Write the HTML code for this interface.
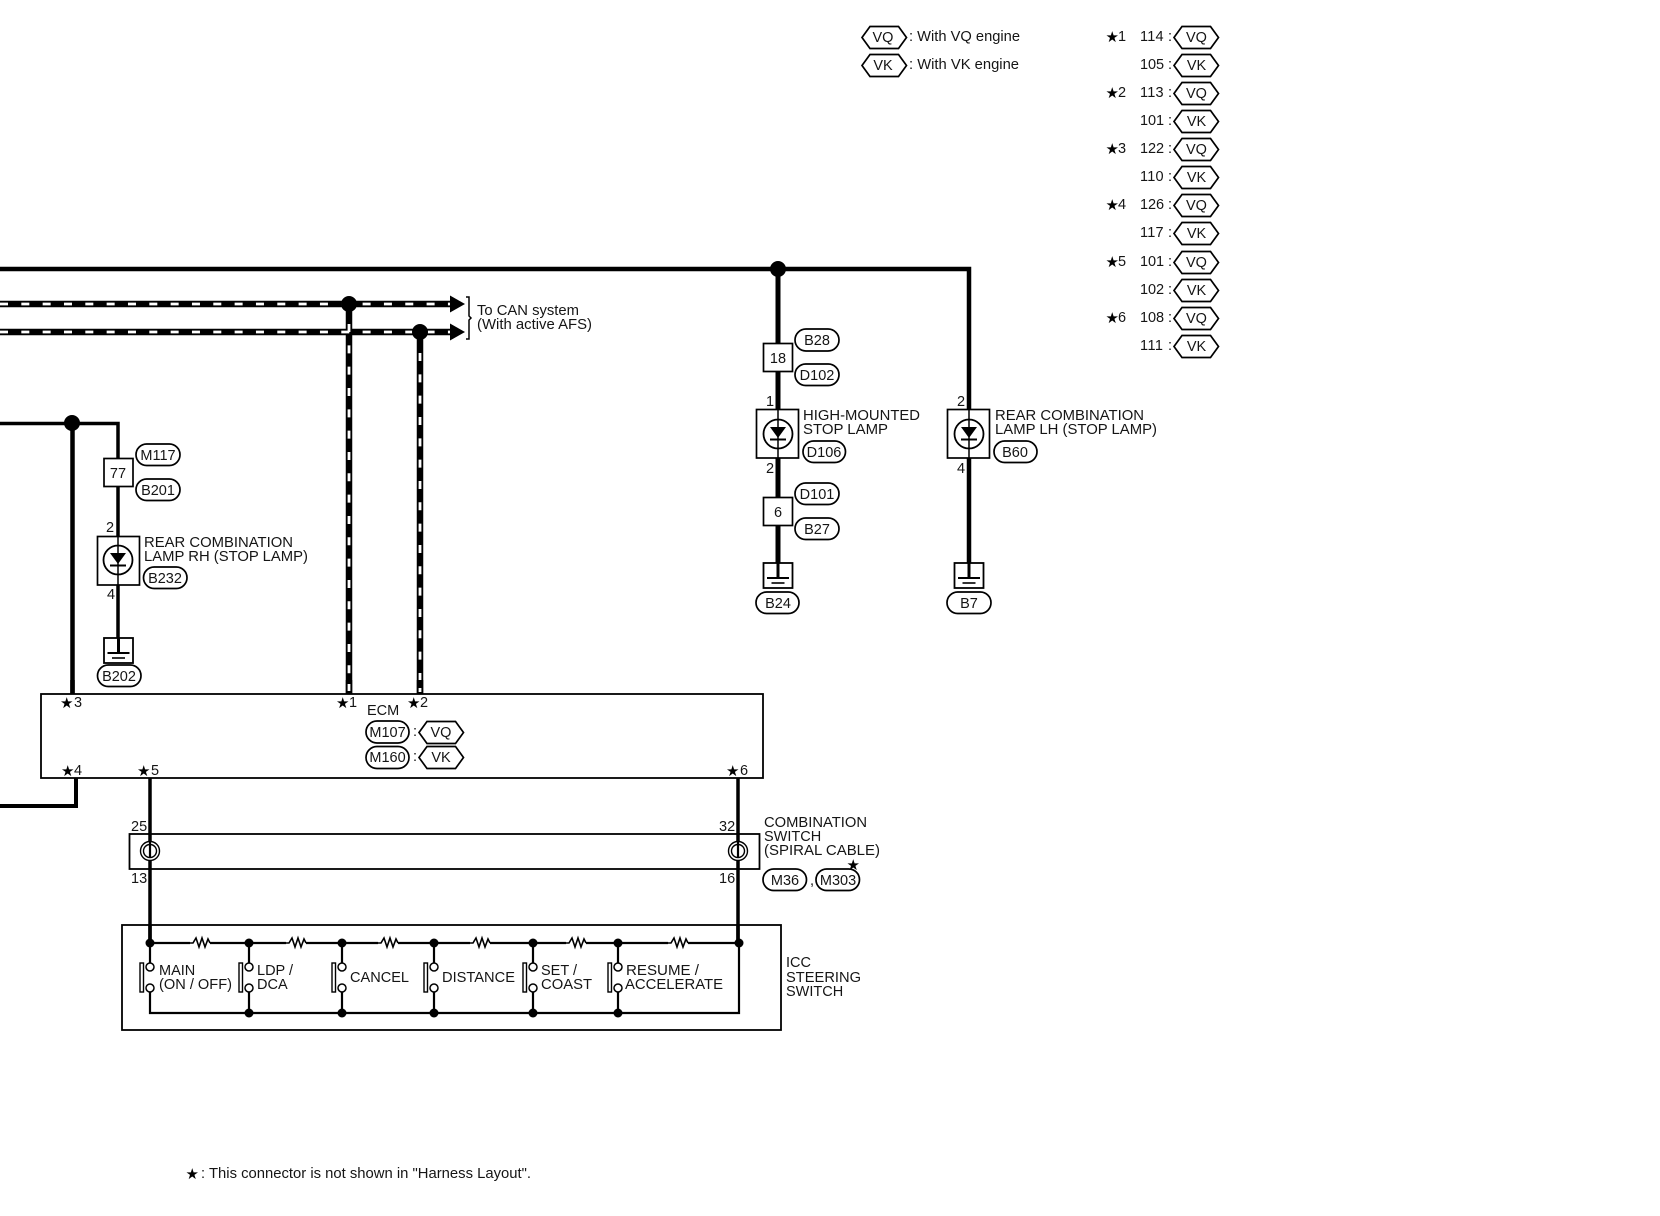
<!DOCTYPE html>
<html><head><meta charset="utf-8"><style>
html,body{margin:0;padding:0;background:#fff}
svg{display:block}
text{font-family:"Liberation Sans",sans-serif;font-size:14.5px;fill:#151515}
.s{font-family:"DejaVu Sans",sans-serif;font-size:15px;fill:#000}
.m{text-anchor:middle}
.c{fill:#fff;stroke:#000;stroke-width:1.7}
.b{fill:#fff;stroke:#000;stroke-width:1.7}
.w{fill:none;stroke:#000}
</style></head><body>
<svg width="1660" height="1216" viewBox="0 0 1660 1216" xmlns="http://www.w3.org/2000/svg">
<defs>
<path id="hex" d="M0 0.500L8 -10.500H36.500L44.500 0.500L36.500 11.500H8Z" fill="#fff" stroke="#000" stroke-width="1.7"/>
<g id="gnd" fill="none" stroke="#000"><rect x="-14.500" y="0" width="29" height="25" fill="#fff" stroke-width="1.8"/><path d="M0 0V15" stroke-width="3"/><path d="M-11 15H11" stroke-width="2"/><path d="M-6.500 20H6.500" stroke-width="1.600"/></g>
<g id="lampc" fill="none" stroke="#000"><circle cx="0" cy="0" r="14.500" stroke-width="1.800" fill="#fff"/><path d="M-8 -7H8L0 4Z" fill="#000" stroke="none"/><path d="M-8 5.500H8" stroke-width="2"/></g>
<path id="res" d="M-10 0L-7 0L-4 -5L-1 4L2 -5L5 4L8 -4L10 0" fill="none" stroke="#000" stroke-width="1.600"/>
<g id="sw"><circle cx="0" cy="0" r="4" fill="#fff" stroke="#000" stroke-width="1.500"/><circle cx="0" cy="21" r="4" fill="#fff" stroke="#000" stroke-width="1.500"/><rect x="-10" y="-4" width="3.500" height="29" fill="#fff" stroke="#000" stroke-width="1.400"/></g>
</defs>

<!-- legend -->
<use href="#hex" x="862" y="37"/><text class="m" x="883" y="42">VQ</text>
<use href="#hex" x="862" y="65"/><text class="m" x="883" y="70">VK</text>
<text x="909" y="41" textLength="111" lengthAdjust="spacingAndGlyphs">: With VQ engine</text>
<text x="909" y="69" textLength="110" lengthAdjust="spacingAndGlyphs">: With VK engine</text>

<!-- table -->
<text class="s" x="1105.500" y="42">★</text><text x="1118" y="41">1</text>
<text class="s" x="1105.500" y="98">★</text><text x="1118" y="97">2</text>
<text class="s" x="1105.500" y="154">★</text><text x="1118" y="153">3</text>
<text class="s" x="1105.500" y="210">★</text><text x="1118" y="209">4</text>
<text class="s" x="1105.500" y="267">★</text><text x="1118" y="266">5</text>
<text class="s" x="1105.500" y="323">★</text><text x="1118" y="322">6</text>
<text x="1140" y="41" textLength="32">114 :</text><use href="#hex" x="1174" y="37"/><text class="m" x="1196.500" y="42">VQ</text>
<text x="1140" y="69" textLength="32">105 :</text><use href="#hex" x="1174" y="65"/><text class="m" x="1196.500" y="70">VK</text>
<text x="1140" y="97" textLength="32">113 :</text><use href="#hex" x="1174" y="93"/><text class="m" x="1196.500" y="98">VQ</text>
<text x="1140" y="125" textLength="32">101 :</text><use href="#hex" x="1174" y="121"/><text class="m" x="1196.500" y="126">VK</text>
<text x="1140" y="153" textLength="32">122 :</text><use href="#hex" x="1174" y="149"/><text class="m" x="1196.500" y="154">VQ</text>
<text x="1140" y="181" textLength="32">110 :</text><use href="#hex" x="1174" y="177"/><text class="m" x="1196.500" y="182">VK</text>
<text x="1140" y="209" textLength="32">126 :</text><use href="#hex" x="1174" y="205"/><text class="m" x="1196.500" y="210">VQ</text>
<text x="1140" y="237" textLength="32">117 :</text><use href="#hex" x="1174" y="233"/><text class="m" x="1196.500" y="238">VK</text>
<text x="1140" y="266" textLength="32">101 :</text><use href="#hex" x="1174" y="262"/><text class="m" x="1196.500" y="267">VQ</text>
<text x="1140" y="294" textLength="32">102 :</text><use href="#hex" x="1174" y="290"/><text class="m" x="1196.500" y="295">VK</text>
<text x="1140" y="322" textLength="32">108 :</text><use href="#hex" x="1174" y="318"/><text class="m" x="1196.500" y="323">VQ</text>
<text x="1140" y="350" textLength="32">111 :</text><use href="#hex" x="1174" y="346"/><text class="m" x="1196.500" y="351">VK</text>

<!-- main bus -->
<path class="w" stroke-width="4.500" d="M0 269H969V578"/>
<path class="w" stroke-width="5" d="M778 269V578"/>
<circle cx="778" cy="269" r="8"/>

<!-- CAN wires -->
<path class="w" stroke-width="6.500" d="M0 304H452M0 332H452M349 304V694M420 332V694"/>
<path class="w" style="stroke:#fff" stroke-width="2.800" stroke-dasharray="8 13.330" d="M0 304H452M0 332H452"/>
<path class="w" style="stroke:#fff" stroke-width="2.800" stroke-dasharray="8 13.330" d="M349 324V694M420 353V694"/>
<circle cx="349" cy="304" r="8"/><circle cx="420" cy="332" r="8"/>
<path d="M450 295.500L465 304L450 312.500Z"/><path d="M450 323.500L465 332L450 340.500Z"/>
<path class="w" stroke-width="1.500" d="M466 297H469V316L471 318L469 320V339H466"/>
<text x="477" y="315" textLength="102" lengthAdjust="spacingAndGlyphs">To CAN system</text>
<text x="477" y="329" textLength="115" lengthAdjust="spacingAndGlyphs">(With active AFS)</text>

<!-- connector 18/6 and labels -->
<rect class="b" x="763.500" y="343.500" width="29" height="28"/><text class="m" x="778" y="363">18</text>
<rect class="c" x="795" y="329" width="44" height="22" rx="11"/><text class="m" x="817" y="345">B28</text>
<rect class="c" x="795" y="364" width="44" height="21.500" rx="10.700"/><text class="m" x="817" y="380">D102</text>
<text x="766" y="406">1</text>
<rect class="b" x="756.500" y="409.500" width="42" height="48.500"/>
<use href="#lampc" x="778" y="434"/><path class="w" stroke-width="1.500" d="M778 409V458"/>
<text x="803" y="420" textLength="117" lengthAdjust="spacingAndGlyphs">HIGH-MOUNTED</text>
<text x="803" y="434" textLength="85" lengthAdjust="spacingAndGlyphs">STOP LAMP</text>
<rect class="c" x="803" y="441" width="42.500" height="21.500" rx="10.700"/><text class="m" x="824" y="457">D106</text>
<text x="766" y="473">2</text>
<rect class="c" x="795" y="483" width="44" height="21.500" rx="10.700"/><text class="m" x="817" y="499">D101</text>
<rect class="b" x="763.500" y="497.500" width="29" height="28"/><text class="m" x="778" y="517">6</text>
<rect class="c" x="795" y="518" width="44" height="21.500" rx="10.700"/><text class="m" x="817" y="534">B27</text>
<use href="#gnd" x="778" y="563"/>
<rect class="c" x="756" y="592" width="43" height="21.500" rx="10.700"/><text class="m" x="778" y="608">B24</text>

<!-- LH lamp -->
<text x="957" y="406">2</text>
<rect class="b" x="947.500" y="409.500" width="42" height="48.500"/>
<use href="#lampc" x="969" y="434"/><path class="w" stroke-width="1.500" d="M969 409V458"/>
<text x="995" y="420" textLength="149" lengthAdjust="spacingAndGlyphs">REAR COMBINATION</text>
<text x="995" y="434" textLength="162" lengthAdjust="spacingAndGlyphs">LAMP LH (STOP LAMP)</text>
<rect class="c" x="994" y="441" width="43" height="21.500" rx="10.700"/><text class="m" x="1015" y="457">B60</text>
<text x="957" y="473">4</text>
<use href="#gnd" x="969" y="563"/>
<rect class="c" x="947" y="592" width="44" height="21.500" rx="10.700"/><text class="m" x="969" y="608">B7</text>

<!-- left branch -->
<path class="w" stroke-width="3.500" d="M0 423.500H118V638"/>
<path class="w" stroke-width="4.500" d="M72.500 423V694"/>
<circle cx="72" cy="423" r="8"/>
<rect class="b" x="104" y="458.500" width="29" height="28"/><text class="m" x="118" y="478">77</text>
<rect class="c" x="136" y="444" width="44" height="21.500" rx="10.700"/><text class="m" x="158" y="460">M117</text>
<rect class="c" x="136" y="479" width="44" height="21.500" rx="10.700"/><text class="m" x="158" y="495">B201</text>
<text x="106" y="532">2</text>
<rect class="b" x="97.500" y="536.500" width="42" height="48.500"/>
<use href="#lampc" x="118" y="560"/><path class="w" stroke-width="1.500" d="M118 536V585"/>
<text x="144" y="547" textLength="149" lengthAdjust="spacingAndGlyphs">REAR COMBINATION</text>
<text x="144" y="561" textLength="164" lengthAdjust="spacingAndGlyphs">LAMP RH (STOP LAMP)</text>
<rect class="c" x="143.500" y="567" width="43.500" height="21.500" rx="10.700"/><text class="m" x="165" y="583">B232</text>
<text x="107" y="599">4</text>
<use href="#gnd" x="118.500" y="638"/>
<rect class="c" x="97.500" y="665" width="43.500" height="21.500" rx="10.700"/><text class="m" x="119" y="681">B202</text>

<!-- ECM -->
<rect x="41" y="694" width="722" height="84" fill="#fff" stroke="#000" stroke-width="1.800"/>
<path class="w" stroke-width="4.500" d="M72.500 680V694"/>
<path class="w" stroke-width="6.500" d="M349 680V694M420 680V694"/>
<path class="w" style="stroke:#fff" stroke-width="2.800" d="M349 684V691M420 688V692"/>
<text class="s" x="60" y="708">★</text><text x="74" y="707">3</text>
<text class="s" x="336" y="708">★</text><text x="349" y="707">1</text>
<text class="s" x="407" y="708">★</text><text x="420" y="707">2</text>
<text x="367" y="715">ECM</text>
<rect class="c" x="366" y="721" width="43" height="22" rx="11"/><text class="m" x="387.500" y="737">M107</text>
<text x="413" y="736">:</text>
<use href="#hex" x="419" y="732"/><text class="m" x="441" y="737">VQ</text>
<rect class="c" x="366" y="746.500" width="43" height="22" rx="11"/><text class="m" x="387.500" y="762">M160</text>
<text x="413" y="761">:</text>
<use href="#hex" x="419" y="757"/><text class="m" x="441" y="762">VK</text>
<text class="s" x="61" y="776">★</text><text x="74" y="775">4</text>
<text class="s" x="137" y="776">★</text><text x="151" y="775">5</text>
<text class="s" x="726" y="776">★</text><text x="740" y="775">6</text>

<path class="w" stroke-width="4" d="M0 806H76V778"/>

<!-- combination switch -->
<rect x="129.500" y="834" width="630" height="35" fill="#fff" stroke="#000" stroke-width="1.800"/>
<path class="w" stroke-width="3.500" d="M150 778V851M738 778V851M150 860V943M738 860V943"/>
<circle cx="150" cy="851" r="9.500" fill="#fff" stroke="#000" stroke-width="1.400"/>
<circle cx="150" cy="851" r="6.500" fill="#fff" stroke="#000" stroke-width="1.400"/>
<path class="w" stroke-width="2.200" d="M150 834V858"/>
<circle cx="738" cy="851" r="9.500" fill="#fff" stroke="#000" stroke-width="1.400"/>
<circle cx="738" cy="851" r="6.500" fill="#fff" stroke="#000" stroke-width="1.400"/>
<path class="w" stroke-width="2.200" d="M738 834V858"/>
<text x="131" y="831">25</text><text x="131" y="883">13</text>
<text x="719" y="831">32</text><text x="719" y="883">16</text>
<text x="764" y="827" textLength="103" lengthAdjust="spacingAndGlyphs">COMBINATION</text>
<text x="764" y="841">SWITCH</text>
<text x="764" y="855" textLength="116" lengthAdjust="spacingAndGlyphs">(SPIRAL CABLE)</text>
<rect class="c" x="763" y="869" width="43.500" height="21.500" rx="10.700"/><text class="m" x="785" y="885">M36</text>
<text x="810" y="885">,</text>
<rect class="c" x="816" y="869" width="43.500" height="21.500" rx="10.700"/><text class="m" x="838" y="885">M303</text>
<text class="s" x="846.500" y="870">★</text>

<!-- ICC steering switch -->
<rect x="122" y="925" width="659" height="105" fill="none" stroke="#000" stroke-width="1.800"/>
<path class="w" stroke-width="2.200" d="M150 943H739M150 988V1013H739V943M249 943V963M342 943V963M434 943V963M533 943V963M618 943V963M150 943V963M249 992V1013M342 992V1013M434 992V1013M533 992V1013M618 992V1013"/>
<path class="w" stroke-width="3.500" d="M150 925V943M738 925V943"/>
<rect x="190" y="938" width="20" height="10" fill="#fff"/><rect x="286" y="938" width="20" height="10" fill="#fff"/><rect x="378" y="938" width="20" height="10" fill="#fff"/><rect x="470" y="938" width="20" height="10" fill="#fff"/><rect x="566" y="938" width="20" height="10" fill="#fff"/><rect x="668" y="938" width="20" height="10" fill="#fff"/>
<use href="#res" x="200" y="943"/><use href="#res" x="296" y="943"/><use href="#res" x="388" y="943"/><use href="#res" x="480" y="943"/><use href="#res" x="576" y="943"/><use href="#res" x="678" y="943"/>
<g><circle cx="150" cy="943" r="4.500"/><circle cx="249" cy="943" r="4.500"/><circle cx="342" cy="943" r="4.500"/><circle cx="434" cy="943" r="4.500"/><circle cx="533" cy="943" r="4.500"/><circle cx="618" cy="943" r="4.500"/><circle cx="739" cy="943" r="4.500"/><circle cx="249" cy="1013" r="4.500"/><circle cx="342" cy="1013" r="4.500"/><circle cx="434" cy="1013" r="4.500"/><circle cx="533" cy="1013" r="4.500"/><circle cx="618" cy="1013" r="4.500"/></g>
<use href="#sw" x="150" y="967"/><use href="#sw" x="249" y="967"/><use href="#sw" x="342" y="967"/><use href="#sw" x="434" y="967"/><use href="#sw" x="533" y="967"/><use href="#sw" x="618" y="967"/>
<text x="159" y="975">MAIN</text><text x="159" y="989" textLength="73" lengthAdjust="spacingAndGlyphs">(ON / OFF)</text>
<text x="257" y="975">LDP /</text><text x="257" y="989">DCA</text>
<text x="350" y="982" textLength="59" lengthAdjust="spacingAndGlyphs">CANCEL</text>
<text x="442" y="982" textLength="73" lengthAdjust="spacingAndGlyphs">DISTANCE</text>
<text x="541" y="975">SET /</text><text x="541" y="989" textLength="51" lengthAdjust="spacingAndGlyphs">COAST</text>
<text x="626" y="975" textLength="73" lengthAdjust="spacingAndGlyphs">RESUME /</text><text x="625" y="989" textLength="98" lengthAdjust="spacingAndGlyphs">ACCELERATE</text>
<text x="786" y="967">ICC</text><text x="786" y="982" textLength="75" lengthAdjust="spacingAndGlyphs">STEERING</text><text x="786" y="996">SWITCH</text>

<!-- footnote -->
<text class="s" x="185.500" y="1179">★</text>
<text x="201" y="1178">:</text>
<text x="209" y="1178" textLength="322" lengthAdjust="spacingAndGlyphs">This connector is not shown in "Harness Layout".</text>
</svg>
</body></html>
